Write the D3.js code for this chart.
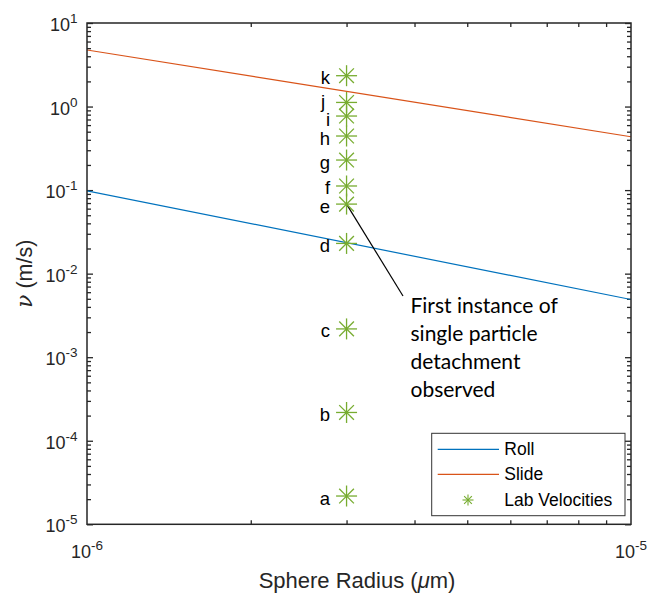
<!DOCTYPE html>
<html>
<head>
<meta charset="utf-8">
<script src="https://cdn.jsdelivr.net/npm/d3@7"></script>
<style>
  body { margin: 0; background: #fff; }
  svg { display: block; }
  text { font-family: "Liberation Sans", Arial, Helvetica, sans-serif; fill: #262626; }
</style>
</head>
<body>
<svg id="chart" width="651" height="594"></svg>
<script>
// Sphere radius range (m) for the two model curves
const radiusEnds = [1e-6, 1e-5];
// Critical velocity for rolling and sliding detachment (m/s)
const rollVel = [0.098, 0.0049];
const slideVel = [4.75, 0.435];
// Laboratory test velocities, all at one sphere radius
const labRadius = 3e-6;
const labVel = [2.18e-5, 2.18e-4, 2.18e-3, 0.023, 0.068, 0.112, 0.229, 0.444, 0.77, 1.12, 2.34];
const labNames = ["a", "b", "c", "d", "e", "f", "g", "h", "i", "j", "k"];
// Tick values
const yMajor = [1e-5, 1e-4, 1e-3, 1e-2, 1e-1, 1e0, 1e1];
const yExp = [-5, -4, -3, -2, -1, 0, 1];
const xMajor = [1e-6, 1e-5];
const xExp = [-6, -5];
const noteLines = ["First instance of", "single particle", "detachment", "observed"];
const legendNames = ["Roll", "Slide", "Lab Velocities"];

const colors = { roll: "#0072BD", slide: "#D95319", lab: "#77AC30", axis: "#262626" };

const svg = d3.select("#chart");
const m = { left: 87, right: 631, top: 23, bottom: 524.3 };

const x = d3.scaleLog().domain([1e-6, 1e-5]).range([m.left, m.right]);
const y = d3.scaleLog().domain([1e-5, 1e1]).range([m.bottom, m.top]);

const minors = (lo, hi) => {
  const out = [];
  for (let e = lo; e < hi; e++) for (let k = 2; k <= 9; k++) out.push(k * Math.pow(10, e));
  return out;
};
const yMinor = minors(-5, 1);
const xMinor = minors(-6, -5);

// clip region for the plotted data
svg.append("defs").append("clipPath").attr("id", "plotClip")
  .append("rect").attr("x", m.left).attr("y", m.top)
  .attr("width", m.right - m.left).attr("height", m.bottom - m.top);

// ticks on all four sides, pointing inward
function tickLayer(axisFn, transform, values, size) {
  const g = svg.append("g").attr("transform", transform)
    .call(axisFn.tickValues(values).tickSizeInner(size).tickSizeOuter(0).tickFormat(""));
  g.select(".domain").remove();
  g.selectAll(".tick line").attr("stroke", colors.axis).attr("stroke-width", 1.3);
}
tickLayer(d3.axisLeft(y), `translate(${m.left},0)`, yMajor, -6);
tickLayer(d3.axisLeft(y), `translate(${m.left},0)`, yMinor, -4);
tickLayer(d3.axisRight(y), `translate(${m.right},0)`, yMajor, -6);
tickLayer(d3.axisRight(y), `translate(${m.right},0)`, yMinor, -4);
tickLayer(d3.axisBottom(x), `translate(0,${m.bottom})`, xMinor, -4);
tickLayer(d3.axisTop(x), `translate(0,${m.top})`, xMinor, -4);

// model curves
const line = d3.line().x(d => x(d[0])).y(d => y(d[1]));
const curves = svg.append("g").attr("clip-path", "url(#plotClip)");
curves.append("path").datum(radiusEnds.map((r, i) => [r, rollVel[i]]))
  .attr("d", line).attr("fill", "none").attr("stroke", colors.roll).attr("stroke-width", 1.2);
curves.append("path").datum(radiusEnds.map((r, i) => [r, slideVel[i]]))
  .attr("d", line).attr("fill", "none").attr("stroke", colors.slide).attr("stroke-width", 1.2);

// annotation leader from point e to the note
const eIdx = labNames.indexOf("e");
svg.append("line")
  .attr("x1", x(labRadius)).attr("y1", y(labVel[eIdx]))
  .attr("x2", 403).attr("y2", 296)
  .attr("stroke", "#000").attr("stroke-width", 1.2);

// asterisk marker
function asterisk(g, cx, cy, r, w) {
  const d = r * 0.7;
  const segs = [[-r, 0, r, 0], [0, -r, 0, r], [-d, -d, d, d], [-d, d, d, -d]];
  segs.forEach(s => g.append("line")
    .attr("x1", cx + s[0]).attr("y1", cy + s[1]).attr("x2", cx + s[2]).attr("y2", cy + s[3])
    .attr("stroke", colors.lab).attr("stroke-width", w));
}
const pts = svg.append("g");
labVel.forEach(v => asterisk(pts, x(labRadius), y(v), 10.5, 1.3));

// point labels (j and i are pulled apart so they stay readable)
const nudge = { j: [-5, -3], i: [0, 1] };
svg.append("g").selectAll("text").data(labVel).join("text")
  .attr("x", (d, i) => x(labRadius) - 16.5 + (nudge[labNames[i]] ? nudge[labNames[i]][0] : 0))
  .attr("y", (d, i) => y(d) + 8.5 + (nudge[labNames[i]] ? nudge[labNames[i]][1] : 0))
  .attr("text-anchor", "end").attr("font-size", 18.5).style("fill", "#000")
  .text((d, i) => labNames[i]);

// note text
const note = svg.append("text").attr("font-size", 21)
  .style("font-family", "Lato, 'Open Sans', sans-serif").style("fill", "#000");
noteLines.forEach((t, i) => note.append("tspan").attr("x", 410.5).attr("y", 312.7 + i * 28.2).text(t));

// outer box
svg.append("rect").attr("x", m.left).attr("y", m.top)
  .attr("width", m.right - m.left).attr("height", m.bottom - m.top)
  .attr("fill", "none").attr("stroke", colors.axis).attr("stroke-width", 1.5);

// y tick labels
yMajor.forEach((v, i) => {
  const t = svg.append("text").attr("x", 77.5).attr("y", y(v) + 8)
    .attr("text-anchor", "end").attr("font-size", 18);
  t.append("tspan").text("10");
  t.append("tspan").attr("dy", -8).attr("font-size", 13.5).text(String(yExp[i]));
});
// x tick labels
xMajor.forEach((v, i) => {
  const t = svg.append("text").attr("x", x(v)).attr("y", 558.3)
    .attr("text-anchor", "middle").attr("font-size", 18);
  t.append("tspan").text("10");
  t.append("tspan").attr("dy", -8).attr("font-size", 13.5).text(String(xExp[i]));
});

// axis titles
const xt = svg.append("text").attr("x", (m.left + m.right) / 2 - 2).attr("y", 588)
  .attr("text-anchor", "middle").attr("font-size", 22);
xt.append("tspan").text("Sphere Radius (");
xt.append("tspan").style("font-style", "italic").text("\u03bc");
xt.append("tspan").text("m)");

const yt = svg.append("text").attr("transform", `translate(32,${(m.top + m.bottom) / 2}) rotate(-90)`)
  .attr("text-anchor", "middle").attr("font-size", 21.5);
yt.append("tspan").style("font-style", "italic").style("font-family", "'DejaVu Serif', serif").text("\u03bd");
yt.append("tspan").text(" (m/s)");

// legend
const lg = svg.append("g");
lg.append("rect").attr("x", 431.7).attr("y", 433.3).attr("width", 193.3).attr("height", 82.4)
  .attr("fill", "#fff").attr("stroke", "#333").attr("stroke-width", 1);
const rowY = [449.3, 474.3, 500];
lg.append("line").attr("x1", 437.7).attr("x2", 499).attr("y1", rowY[0]).attr("y2", rowY[0])
  .attr("stroke", colors.roll).attr("stroke-width", 1.2);
lg.append("line").attr("x1", 437.7).attr("x2", 499).attr("y1", rowY[1]).attr("y2", rowY[1])
  .attr("stroke", colors.slide).attr("stroke-width", 1.2);
asterisk(lg, 468, rowY[2], 5.5, 1.1);
legendNames.forEach((n, i) => lg.append("text").attr("x", 504.3).attr("y", rowY[i] + 6)
  .attr("font-size", 17.5).style("fill", "#000").text(n));
</script>
</body>
</html>
